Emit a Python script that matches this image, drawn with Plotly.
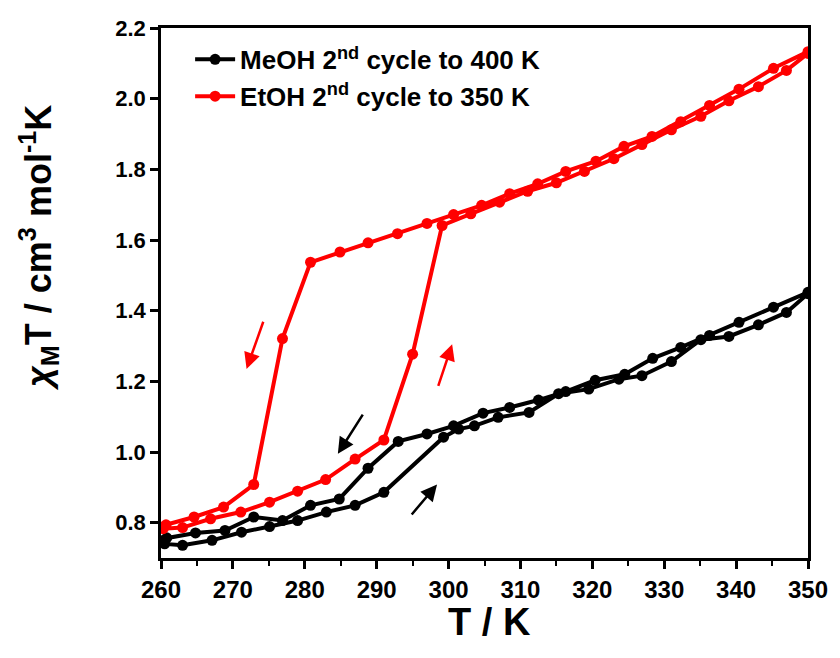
import plotly.graph_objects as go

# MeOH 2nd cycle (cooling then heating)
meoh_T = [350.0, 345.2, 340.4, 336.3, 332.3, 328.4, 324.5, 320.4, 316.3, 312.5, 308.5, 304.8,
          300.7, 297.0, 293.0, 288.8, 284.8, 280.8, 276.9, 272.9, 268.9, 264.8, 260.8, 259.6,
          260.5, 263.0, 267.1, 271.2, 275.1, 279.0, 283.0, 287.0, 291.0, 299.3, 301.4, 303.6,
          306.9, 311.2, 315.3, 319.5, 323.7, 326.9, 331.0, 335.1, 339.0, 343.1, 347.0, 350.0]
meoh_X = [1.452, 1.410, 1.367, 1.330, 1.296, 1.265, 1.220, 1.203, 1.171, 1.147, 1.126, 1.110,
          1.074, 1.051, 1.030, 0.954, 0.867, 0.849, 0.806, 0.816, 0.778, 0.771, 0.757, 0.752,
          0.740, 0.736, 0.750, 0.773, 0.789, 0.806, 0.830, 0.849, 0.886, 1.042, 1.065, 1.074,
          1.098, 1.112, 1.165, 1.178, 1.206, 1.216, 1.256, 1.318, 1.327, 1.360, 1.395, 1.448]

# EtOH 2nd cycle (cooling then heating)
etoh_T = [350.0, 345.2, 340.4, 336.3, 332.3, 328.3, 324.4, 320.5, 316.3, 312.4, 308.5, 304.6,
          300.7, 297.0, 292.9, 288.8, 284.9, 280.8, 276.9, 272.9, 268.7, 264.6, 260.7, 259.6,
          260.3, 263.0, 266.9, 271.1, 275.1, 279.0, 282.9, 287.0, 291.0, 295.0, 299.1, 303.1,
          307.1, 311.0, 315.0, 318.9, 323.0, 326.9, 331.0, 335.1, 339.0, 343.1, 347.0, 350.0]
etoh_X = [2.133, 2.086, 2.027, 1.981, 1.935, 1.893, 1.865, 1.823, 1.794, 1.759, 1.731, 1.698,
          1.672, 1.647, 1.618, 1.592, 1.566, 1.537, 1.321, 0.908, 0.844, 0.816, 0.794, 0.790,
          0.783, 0.786, 0.811, 0.830, 0.858, 0.889, 0.922, 0.980, 1.034, 1.277, 1.641, 1.674,
          1.707, 1.738, 1.762, 1.794, 1.830, 1.870, 1.912, 1.950, 1.994, 2.034, 2.080, 2.128]

# arrows: (tail T, tail X, head T, head X, colour)
arrows = [
    (274.3, 1.373, 271.9, 1.235, "#ff0000"),
    (298.5, 1.183, 300.5, 1.305, "#ff0000"),
    (288.2, 1.110, 284.6, 0.995, "#000000"),
    (294.7, 0.819, 298.4, 0.908, "#000000"),
]

x_ticks = list(range(260, 351, 10))
y_ticks = [0.8, 1.0, 1.2, 1.4, 1.6, 1.8, 2.0, 2.2]
y_ticktext = ["0.8", "1.0", "1.2", "1.4", "1.6", "1.8", "2.0", "2.2"]

fig = go.Figure()
fig.add_trace(go.Scatter(x=meoh_T, y=meoh_X, mode="lines+markers",
                         name="MeOH 2<sup>nd</sup> cycle to 400 K",
                         line=dict(color="#000000", width=4),
                         marker=dict(symbol="circle", size=11, color="#000000")))
fig.add_trace(go.Scatter(x=etoh_T, y=etoh_X, mode="lines+markers",
                         name="EtOH 2<sup>nd</sup> cycle to 350 K",
                         line=dict(color="#ff0000", width=4),
                         marker=dict(symbol="circle", size=11, color="#ff0000")))

for tx, ty, hx, hy, c in arrows:
    fig.add_annotation(x=hx, y=hy, ax=tx, ay=ty, xref="x", yref="y", axref="x", ayref="y",
                       text="", showarrow=True, arrowhead=2, arrowsize=1.3, arrowwidth=2.5,
                       arrowcolor=c)

font_b = "Arial, Liberation Sans, sans-serif"

# axis titles as annotations (positioned like the reference)
fig.add_annotation(text="T / K", xref="paper", yref="paper", x=0.507, y=0, yshift=-64,
                   xanchor="center", yanchor="middle", showarrow=False,
                   font=dict(family=font_b, size=38, color="black", weight="bold"))
fig.add_annotation(text="<i>χ</i><sub>M</sub>T / cm<sup>3</sup> mol<sup>-1</sup>K",
                   xref="paper", yref="paper", x=0, xshift=-122, y=0.585, textangle=-90,
                   xanchor="center", yanchor="middle", showarrow=False,
                   font=dict(family=font_b, size=36, color="black", weight="bold"))

fig.update_layout(
    width=840, height=658,
    margin=dict(l=161, r=26, t=28, b=100),
    plot_bgcolor="white", paper_bgcolor="white",
    showlegend=True,
    legend=dict(x=0.045, y=0.985, xanchor="left", yanchor="top",
                font=dict(family=font_b, size=26, color="black", weight="bold"),
                bgcolor="rgba(0,0,0,0)", itemwidth=40, tracegroupgap=0),
    xaxis=dict(range=[260, 350], tickvals=x_ticks,
               ticks="outside", ticklen=8, tickwidth=2.5, tickcolor="black",
               minor=dict(ticks="outside", ticklen=5, tickwidth=2, dtick=5, tickcolor="black"),
               showline=True, linewidth=2.5, linecolor="black", mirror=True,
               showgrid=False, zeroline=False,
               tickfont=dict(family=font_b, size=24, color="black", weight="bold")),
    yaxis=dict(range=[0.7, 2.2], tickvals=y_ticks, ticktext=y_ticktext,
               ticks="outside", ticklen=8, tickwidth=2.5, tickcolor="black",
               showline=True, linewidth=2.5, linecolor="black", mirror=True,
               showgrid=False, zeroline=False,
               tickfont=dict(family=font_b, size=22, color="black", weight="bold")),
)

fig.write_html("out.html")
